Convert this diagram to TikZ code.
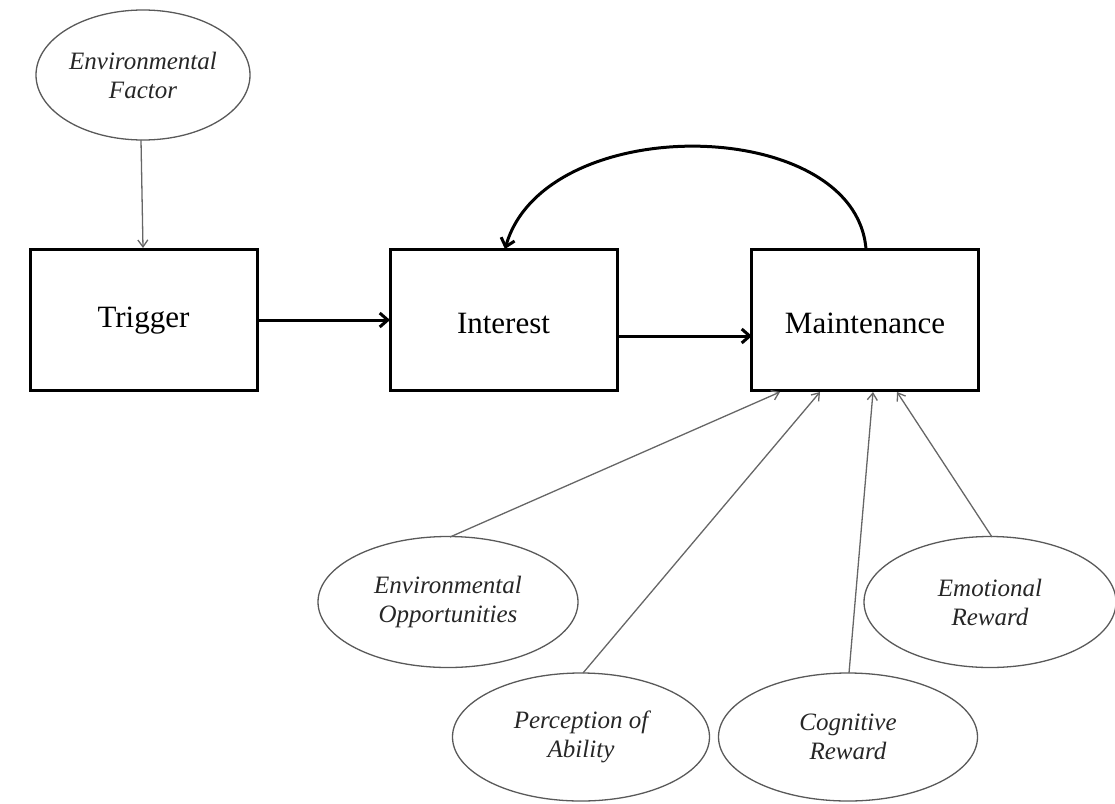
\documentclass[tikz,border=0pt]{standalone}
\usepackage{fontspec}
\setmainfont{Liberation Serif}
\usetikzlibrary{shapes.geometric,arrows.meta}
\begin{document}
\begin{tikzpicture}[x=1pt,y=-1pt,
  stagebox/.style={draw=black,line width=3pt,rectangle,minimum width=227pt,minimum height=141pt,inner sep=0pt},
  stagetext/.style={font=\fontsize{31}{36}\selectfont},
  factor/.style={draw=black!65,line width=1.3pt,ellipse,inner sep=0pt,align=center,font=\fontsize{25}{29}\selectfont\itshape,text=black!85},
  thin/.style={draw=black!60,line width=1.3pt,-{Straight Barb[length=7pt,width=10pt]}},
  thick/.style={draw=black,line width=3pt,-{Straight Barb[length=8pt,width=14pt]}}]
\useasboundingbox (0,0) rectangle (1115,803);
\node[stagebox] (trig) at (143.5,319.5) {};
\node[stagebox] (int) at (503.5,319.5) {};
\node[stagebox] (main) at (865,319.5) {};
\node[stagetext] (trigt) at (143.5,321) {Trigger};
\node[stagetext] (intt) at (503.5,323) {Interest};
\node[stagetext] (maint) at (865,323) {Maintenance};
\node[factor,minimum width=214pt,minimum height=130pt] (ef) at (143,75) {Environmental\\Factor};
\node[factor,minimum width=260pt,minimum height=131pt] (eo) at (448,602) {Environmental\\Opportunities};
\node[factor,minimum width=257pt,minimum height=128pt] (pa) at (581,737) {Perception of\\Ability};
\node[factor,minimum width=259pt,minimum height=128pt] (cr) at (848,737) {Cognitive\\Reward};
\node[factor,minimum width=252pt,minimum height=131pt] (er) at (990,602) {Emotional\\Reward};
\coordinate (efo) at (141,140);
\coordinate (efi) at (143,248);
\coordinate (t1) at (257,320);
\coordinate (i1) at (390,320);
\coordinate (i2) at (617,336);
\coordinate (m2) at (752,336);
\coordinate (mtop) at (866,249);
\coordinate (itop) at (505,249);
\coordinate (eoo) at (450,537);
\coordinate (pao) at (583,673);
\coordinate (cro) at (849,673);
\coordinate (ero) at (992,537);
\coordinate (ma) at (780,392);
\coordinate (mb) at (820,392);
\coordinate (mc) at (873,392);
\coordinate (md) at (897,392);
\draw[thin] (efo) -- (efi);
\draw[thick] (t1) -- (i1);
\draw[thick] (i2) -- (m2);
\draw[thick] (mtop) .. controls (855,115) and (545,110) .. (itop);
\draw[thin] (eoo) -- (ma);
\draw[thin] (pao) -- (mb);
\draw[thin] (cro) -- (mc);
\draw[thin] (ero) -- (md);
\end{tikzpicture}
\end{document}
